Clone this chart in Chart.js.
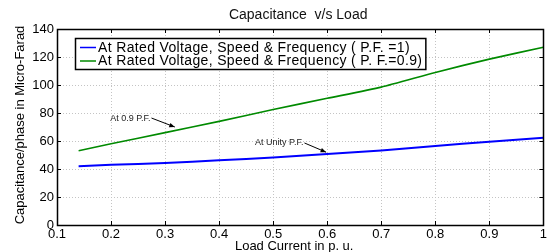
<!DOCTYPE html>
<html><head><meta charset="utf-8">
<script src="https://cdn.jsdelivr.net/npm/chart.js@4/dist/chart.umd.min.js"></script>
<style>html,body{margin:0;padding:0;background:#fff}#wrap{width:549px;height:252px;position:relative}</style>
</head><body><div id="wrap"><canvas id="c" width="549" height="252"></canvas></div>
<script>
// ---- data ----
const loadCurrent = [0.14, 0.2, 0.3, 0.4, 0.5, 0.6, 0.7, 0.8, 0.9, 1.0];
const capUnityPF = [42, 43, 44.3, 46.3, 48.2, 50.8, 53.3, 56.5, 59.5, 62.3];
const capPF09 = [53, 58, 66, 74, 82.5, 90.5, 98.5, 109, 118.5, 127];
const seriesLabels = ['At Rated Voltage, Speed & Frequency ( P.F. =1)', 'At Rated Voltage, Speed & Frequency ( P. F.=0.9)'];
const xTickValues = [0.1, 0.2, 0.3, 0.4, 0.5, 0.6, 0.7, 0.8, 0.9, 1];
const yTickValues = [0, 20, 40, 60, 80, 100, 120, 140];
const chartTitle = 'Capacitance  v/s Load';
const xTitle = 'Load Current in p. u.';
const yTitle = 'Capacitance/phase in Micro-Farad';
const noteLabels = ['At 0.9 P.F.', 'At Unity P.F.'];

const FONT = 'Arial, "Liberation Sans", Helvetica, sans-serif';

const toPts = (xs, ys) => xs.map((x, i) => ({x: x, y: ys[i]}));

const decor = {
  id: 'decor',
  beforeDraw(chart) {
    const ctx = chart.ctx;
    ctx.save();
    ctx.fillStyle = '#fff';
    ctx.fillRect(0, 0, chart.width, chart.height);
    ctx.restore();
  },
  afterDraw(chart) {
    const ctx = chart.ctx;
    const a = chart.chartArea;
    const xs = chart.scales.x, ys = chart.scales.y;
    ctx.save();
    // inward tick marks
    ctx.strokeStyle = '#000';
    ctx.lineWidth = 1;
    ctx.beginPath();
    xTickValues.forEach(v => {
      const p = Math.round(xs.getPixelForValue(v)) + 0.5;
      ctx.moveTo(p, a.bottom); ctx.lineTo(p, a.bottom - 4);
      ctx.moveTo(p, a.top); ctx.lineTo(p, a.top + 4);
    });
    yTickValues.forEach(v => {
      const p = Math.round(ys.getPixelForValue(v)) + 0.5;
      ctx.moveTo(a.left, p); ctx.lineTo(a.left + 4, p);
      ctx.moveTo(a.right, p); ctx.lineTo(a.right - 4, p);
    });
    ctx.stroke();
    // box
    ctx.lineWidth = 1.5;
    ctx.strokeRect(Math.round(a.left) + 0.5, Math.round(a.top) + 0.5, Math.round(a.right - a.left), Math.round(a.bottom - a.top));

    // legend
    ctx.font = '14px ' + FONT;
    try { ctx.letterSpacing = '0.35px'; } catch (e) {}
    const ds = chart.data.datasets;
    let maxW = 0;
    ds.forEach(d => { maxW = Math.max(maxW, ctx.measureText(d.label).width); });
    const lx = a.left + 18, ly = a.top + 9;
    const lw = 24 + maxW + 2, lh = 31;
    ctx.fillStyle = '#fff';
    ctx.fillRect(lx, ly, lw, lh);
    ctx.lineWidth = 1.5;
    ctx.strokeStyle = '#000';
    ctx.strokeRect(lx + 0.5, ly + 0.5, lw, lh);
    ds.forEach((d, i) => {
      const yy = ly + 9.5 + i * 13.5;
      ctx.strokeStyle = d.borderColor;
      ctx.lineWidth = 1.5;
      ctx.beginPath(); ctx.moveTo(lx + 5, yy); ctx.lineTo(lx + 21, yy); ctx.stroke();
      ctx.fillStyle = '#000';
      ctx.textAlign = 'left'; ctx.textBaseline = 'middle';
      ctx.fillText(d.label, lx + 23, yy + 0.5);
    });
    try { ctx.letterSpacing = '0px'; } catch (e) {}

    // annotations
    const notes = chart.options.plugins.decor.notes;
    notes.forEach(n => {
      const tx = xs.getPixelForValue(n.tx), ty = ys.getPixelForValue(n.ty);
      const ax = xs.getPixelForValue(n.ax), ay = ys.getPixelForValue(n.ay);
      ctx.font = '9px ' + FONT;
      ctx.fillStyle = '#222';
      ctx.textAlign = 'right'; ctx.textBaseline = 'middle';
      ctx.fillText(n.text, tx, ty);
      ctx.strokeStyle = '#000'; ctx.lineWidth = 1;
      ctx.beginPath(); ctx.moveTo(tx + 1, ty); ctx.lineTo(ax, ay); ctx.stroke();
      const ang = Math.atan2(ay - ty, ax - tx);
      ctx.fillStyle = '#000';
      ctx.beginPath();
      ctx.moveTo(ax, ay);
      ctx.lineTo(ax - 6 * Math.cos(ang - 0.4), ay - 6 * Math.sin(ang - 0.4));
      ctx.lineTo(ax - 6 * Math.cos(ang + 0.4), ay - 6 * Math.sin(ang + 0.4));
      ctx.closePath(); ctx.fill();
    });

    // titles
    ctx.fillStyle = '#111';
    ctx.textAlign = 'center'; ctx.textBaseline = 'middle';
    ctx.font = '14px ' + FONT;
    ctx.fillText(chartTitle, (a.left + a.right) / 2 - 2, 15);
    ctx.font = '13px ' + FONT;
    ctx.fillStyle = '#000';
    ctx.fillText(xTitle, (a.left + a.right) / 2 - 6, 246);
    ctx.save();
    ctx.translate(20, (a.top + a.bottom) / 2 - 2);
    ctx.rotate(-Math.PI / 2);
    ctx.fillText(yTitle, 0, 0);
    ctx.restore();
    ctx.restore();
  }
};

new Chart(document.getElementById('c'), {
  type: 'line',
  data: {
    datasets: [
      {label: seriesLabels[0], data: toPts(loadCurrent, capUnityPF), borderColor: '#0000ff', borderWidth: 2, pointRadius: 0, tension: 0.3, fill: false},
      {label: seriesLabels[1], data: toPts(loadCurrent, capPF09), borderColor: '#008a00', borderWidth: 1.6, pointRadius: 0, tension: 0.2, fill: false}
    ]
  },
  options: {
    responsive: false,
    devicePixelRatio: 1,
    animation: false,
    layout: {padding: {top: 29, right: 3, left: 0, bottom: 0}},
    plugins: {
      legend: {display: false},
      title: {display: false},
      tooltip: {enabled: false},
      decor: {notes: [
        {text: noteLabels[0], tx: 0.273, ty: 76.4, ax: 0.318, ay: 70},
        {text: noteLabels[1], tx: 0.556, ty: 58.6, ax: 0.598, ay: 52}
      ]}
    },
    scales: {
      x: {
        type: 'linear', min: 0.1, max: 1,
        afterFit(s) { s.height = 27; },
        afterBuildTicks(s) { s.ticks = xTickValues.map(v => ({value: v})); },
        ticks: {font: {size: 13, family: FONT}, color: '#000', padding: 2, maxRotation: 0, autoSkip: false,
          callback: v => String(Math.round(v * 10) / 10)},
        grid: {color: '#c4c4c4', lineWidth: 1, drawTicks: false},
        border: {display: false, dash: [1, 2]}
      },
      y: {
        type: 'linear', min: 0, max: 140,
        afterFit(s) { s.width = 57; },
        afterBuildTicks(s) { s.ticks = yTickValues.map(v => ({value: v})); },
        ticks: {font: {size: 13, family: FONT}, color: '#000', padding: 3},
        grid: {color: '#c4c4c4', lineWidth: 1, drawTicks: false},
        border: {display: false, dash: [1, 2]}
      }
    }
  },
  plugins: [decor]
});
</script>
</body></html>
